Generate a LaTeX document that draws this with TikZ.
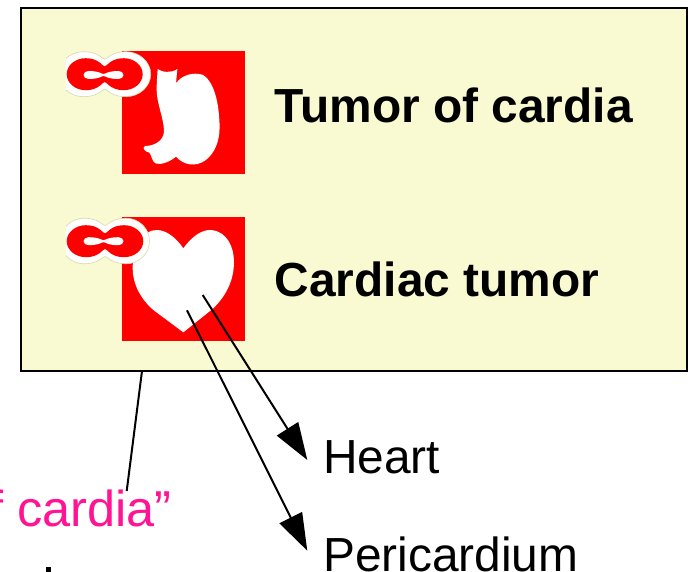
\documentclass[tikz,border=0pt]{standalone}
\usepackage{fontspec}
\setmainfont{Liberation Sans}
\usetikzlibrary{arrows.meta}
\definecolor{panel}{HTML}{FAFAD2}
\definecolor{pinklabel}{HTML}{FF1493}
\definecolor{halo}{HTML}{D8D8B0}
\newcommand{\peanutpath}[6]{% cx cy w L h n
  (#1,#2-#6) .. controls (#1+0.12*#4,#2-#6) and (#1+0.3*#4,#2-#5) .. (#1+#4,#2-#5)
  .. controls (#1+#4+0.55*#3-0.55*#4,#2-#5) and (#1+#3,#2-0.55*#5) .. (#1+#3,#2)
  .. controls (#1+#3,#2+0.55*#5) and (#1+#4+0.55*#3-0.55*#4,#2+#5) .. (#1+#4,#2+#5)
  .. controls (#1+0.3*#4,#2+#5) and (#1+0.12*#4,#2+#6) .. (#1,#2+#6)
  .. controls (#1-0.12*#4,#2+#6) and (#1-0.3*#4,#2+#5) .. (#1-#4,#2+#5)
  .. controls (#1-#4-0.55*#3+0.55*#4,#2+#5) and (#1-#3,#2+0.55*#5) .. (#1-#3,#2)
  .. controls (#1-#3,#2-0.55*#5) and (#1-#4-0.55*#3+0.55*#4,#2-#5) .. (#1-#4,#2-#5)
  .. controls (#1-0.3*#4,#2-#5) and (#1-0.12*#4,#2-#6) .. (#1,#2-#6) -- cycle}
\tikzset{
  panelbox/.style={draw=black,fill=panel,line width=2pt,inner sep=0pt,minimum width=666pt,minimum height=363pt},
  redsquare/.style={fill=red,inner sep=0pt,minimum width=123pt,minimum height=123.5pt},
  biglabel/.style={anchor=base west,inner sep=0pt,font=\fontsize{47.85}{50}\selectfont\bfseries},
  thinlabel/.style={anchor=base west,inner sep=0pt,font=\fontsize{47.85}{50}\selectfont},
  pinktext/.style={anchor=base east,inner sep=0pt,text=pinklabel,font=\fontsize{50.5}{52}\selectfont},
  leader/.style={draw=black,line width=2pt},
  bigarrow/.style={draw=black,line width=2pt,-{Triangle[length=37pt,width=25pt]}}
}
\begin{document}
\begin{tikzpicture}[x=1pt,y=-1pt]
\useasboundingbox (0,0) rectangle (690,572);
\clip (0,0) rectangle (690,572);
\node[panelbox] (panel) at (354,189.5) {};
\node[redsquare] (icona) at (183.5,112.5) {};
\node[redsquare] (iconb) at (183.5,279) {};
% stomach
\begin{scope}[shift={(50,40)},x=0.3333pt,y=-0.3333pt]
\fill[white] (323,87) .. controls (335,97) and (365,100) .. (382,87)
  -- (378,130)
  .. controls (395,105) and (430,95) .. (460,105)
  .. controls (490,125) and (505,180) .. (508,240)
  .. controls (513,300) and (495,340) .. (465,362)
  .. controls (435,382) and (400,375) .. (378,350)
  .. controls (360,365) and (335,375) .. (318,371)
  .. controls (305,365) and (305,345) .. (298,338)
  .. controls (285,335) and (275,325) .. (285,318)
  .. controls (310,318) and (340,305) .. (342,275)
  .. controls (342,235) and (320,190) .. (320,150)
  .. controls (320,125) and (322,105) .. (323,87) -- cycle;
\end{scope}
% heart
\begin{scope}[shift={(50,205)},x=0.3333pt,y=-0.3333pt]
\fill[white] (400,130) .. controls (425,95) and (455,73) .. (485,75)
  .. controls (530,80) and (552,125) .. (552,170)
  .. controls (552,225) and (530,270) .. (490,310)
  -- (400,382) -- (310,315)
  .. controls (270,280) and (248,235) .. (248,190)
  .. controls (248,120) and (280,75) .. (320,75)
  .. controls (350,75) and (380,100) .. (400,130) -- cycle;
\end{scope}
\begin{scope}
\clip (66,0) rectangle (690,572);
\filldraw[fill=white,draw=halo,line width=0.6pt] \peanutpath{104.7}{74.2}{46}{21}{22.5}{15};
\fill[red] \peanutpath{104.7}{74.2}{38}{19}{16}{7.8};
\fill[white] \peanutpath{103.5}{75}{20}{15}{4}{1};
\filldraw[fill=white,draw=halo,line width=0.6pt] \peanutpath{105}{241}{44.5}{21}{22.8}{15.5};
\fill[red] \peanutpath{105}{241.2}{38.3}{19}{16}{7.8};
\fill[white] \peanutpath{103.5}{241.2}{20}{15}{4}{1};
\end{scope}
\node[biglabel] (tumorcardia) at (274.5,123) {Tumor of cardia};
\node[biglabel] (cardiactumor) at (274.5,296) {Cardiac tumor};
\node[thinlabel] (heart) at (323,473) {Heart};
\node[thinlabel] (pericardium) at (323,571) {Pericardium};
\node[pinktext] (cardia) at (172,526) {of cardia”};
\coordinate (leadtop) at (142,371);
\coordinate (leadbot) at (126.7,491);
\draw[leader] (leadtop) -- (leadbot);
\coordinate (hstart) at (202.7,295);
\coordinate (htip) at (307.3,460);
\coordinate (pstart) at (187,310.3);
\coordinate (ptip) at (307.3,550.7);
\draw[bigarrow] (hstart) -- (htip);
\draw[bigarrow] (pstart) -- (ptip);
\node[fill=black,inner sep=0pt,minimum width=5pt,minimum height=5pt] (dotmark) at (48.5,569.5) {};
\end{tikzpicture}
\end{document}
